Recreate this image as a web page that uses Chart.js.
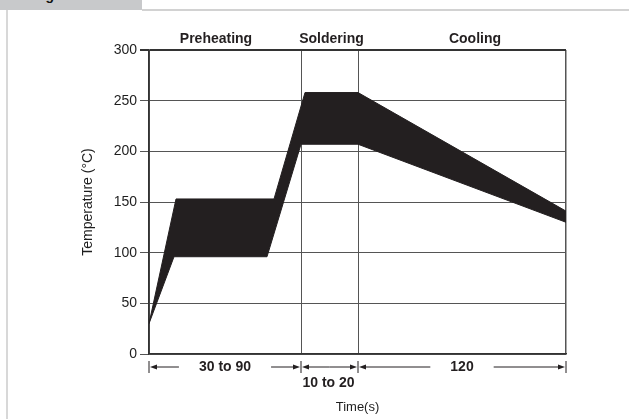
<!DOCTYPE html>
<html>
<head>
<meta charset="utf-8">
<script src="https://cdn.jsdelivr.net/npm/chart.js@4.4.1/dist/chart.umd.min.js"></script>
<style>
  html, body { margin: 0; padding: 0; background: #fff; }
  #wrap { position: relative; width: 629px; height: 419px; overflow: hidden; }
  #tab { position: absolute; left: 0; top: 0; width: 142px; height: 10px; background: #c8c9cb; }
  #tabText { position: absolute; left: 33px; top: -12px; font: bold 14px/14px "Liberation Sans", Arial, sans-serif; color: #111; }
  #topRule { position: absolute; left: 142px; top: 9px; right: 0; height: 2px; background: #d2d2d2; }
  #leftRule { position: absolute; left: 6px; top: 10px; width: 2px; bottom: 0; background: #d8d8d8; }
  #chartBox { position: absolute; left: 0; top: 0; width: 629px; height: 419px; }
</style>
</head>
<body>
<div id="wrap">
  <div id="tab"></div>
  <div id="tabText">Figure</div>
  <div id="topRule"></div>
  <div id="leftRule"></div>
  <div id="chartBox"><canvas id="profileChart"></canvas></div>
</div>
<script>
// 구간 이름과 경계 (가로축은 비례가 아닌 도식용 단위)
const sectionNames = ['Preheating', 'Soldering', 'Cooling'];
const sectionEdges = [0, 152, 209, 417];
const spanLabels = ['30 to 90', '10 to 20', '120'];

// 온도 띠의 위/아래 경계
const upperTime = [0, 27, 125, 156, 209, 417];
const upperTemp = [30, 153, 153, 258, 258, 141];
const lowerTime = [0, 25, 118, 152, 209, 417];
const lowerTemp = [30, 96, 96, 207, 207, 130];

// 세로축 눈금
const tempTicks = [0, 50, 100, 150, 200, 250, 300];

const ink = '#231f20';
const fontFamily = '"Liberation Sans", Arial, Helvetica, sans-serif';

Chart.defaults.responsive = true;
Chart.defaults.maintainAspectRatio = false;
Chart.defaults.font.family = fontFamily;

// 화살표 한 개 그리기 (from -> to, 머리는 to 쪽)
function drawArrow(ctx, from, to, y) {
  const dir = to > from ? 1 : -1;
  ctx.beginPath();
  ctx.moveTo(from, y);
  ctx.lineTo(to - dir * 5, y);
  ctx.stroke();
  ctx.beginPath();
  ctx.moveTo(to, y);
  ctx.lineTo(to - dir * 7, y - 2.5);
  ctx.lineTo(to - dir * 7, y + 2.5);
  ctx.closePath();
  ctx.fill();
}

// 위쪽 구간 이름과 아래쪽 치수선
const profileNotes = {
  id: 'profileNotes',
  afterDraw(chart) {
    const { ctx, chartArea, scales: { x } } = chart;
    const edges = sectionEdges.map(v => x.getPixelForValue(v));
    const nameShift = [-9, 2, 13];
    ctx.save();
    ctx.fillStyle = ink;
    ctx.strokeStyle = ink;
    ctx.textAlign = 'center';

    ctx.font = 'bold 14px ' + fontFamily;
    ctx.textBaseline = 'alphabetic';
    sectionNames.forEach((name, i) => {
      ctx.fillText(name, (edges[i] + edges[i + 1]) / 2 + nameShift[i], chartArea.top - 7);
    });

    const y = chartArea.bottom + 13;
    ctx.lineWidth = 1;
    edges.forEach(px => {
      ctx.beginPath();
      ctx.moveTo(px, y - 6);
      ctx.lineTo(px, y + 6);
      ctx.stroke();
    });

    ctx.textBaseline = 'middle';
    spanLabels.forEach((label, i) => {
      const a = edges[i] + 1;
      const b = edges[i + 1] - 1;
      const mid = (a + b) / 2;
      const w = ctx.measureText(label).width;
      if (w + 50 < b - a) {
        ctx.fillText(label, mid, y);
        drawArrow(ctx, mid - w / 2 - 20, a, y);
        drawArrow(ctx, mid + w / 2 + 20, b, y);
      } else {
        drawArrow(ctx, mid, a, y);
        drawArrow(ctx, mid, b, y);
        ctx.fillText(label, mid - 1, y + 16);
      }
    });
    ctx.restore();
  }
};

const ctx = document.getElementById('profileChart').getContext('2d');
new Chart(ctx, {
  type: 'line',
  data: {
    datasets: [
      {
        label: 'upper',
        data: upperTime.map((t, i) => ({ x: t, y: upperTemp[i] })),
        borderColor: ink,
        borderWidth: 1,
        pointRadius: 0,
        tension: 0,
        fill: false
      },
      {
        label: 'lower',
        data: lowerTime.map((t, i) => ({ x: t, y: lowerTemp[i] })),
        borderColor: ink,
        borderWidth: 1,
        backgroundColor: ink,
        pointRadius: 0,
        tension: 0,
        fill: '-1'
      }
    ]
  },
  options: {
    animation: false,
    layout: { padding: { left: 76, top: 50, right: 63, bottom: 0 } },
    plugins: {
      legend: { display: false },
      tooltip: { enabled: false }
    },
    scales: {
      x: {
        type: 'linear',
        min: sectionEdges[0],
        max: sectionEdges[sectionEdges.length - 1],
        afterBuildTicks: scale => { scale.ticks = sectionEdges.map(v => ({ value: v })); },
        afterFit: scale => { scale.height = 65; },
        ticks: { display: false },
        grid: {
          drawTicks: false,
          color: '#555',
          lineWidth: c => (c.tick && c.tick.value === 417 ? 1.5 : 1)
        },
        border: { color: '#333', width: 1.5 },
        title: {
          display: true,
          text: 'Time(s)',
          color: '#1e1e1e',
          font: { size: 13 },
          padding: { top: 4, bottom: 4 }
        }
      },
      y: {
        min: 0,
        max: 300,
        afterBuildTicks: scale => { scale.ticks = tempTicks.map(v => ({ value: v })); },
        afterFit: scale => { scale.width = 73; },
        ticks: { color: '#1e1e1e', font: { size: 14 }, padding: 3 },
        grid: {
          tickLength: 9,
          color: c => (c.tick && c.tick.value === 300 ? '#333' : '#555'),
          lineWidth: c => (c.tick && c.tick.value === 300 ? 2 : 1)
        },
        border: { color: '#333', width: 1.5 },
        title: {
          display: true,
          text: 'Temperature (°C)',
          color: '#1e1e1e',
          font: { size: 14 },
          padding: { top: 4, bottom: 4 }
        }
      }
    }
  },
  plugins: [profileNotes]
});
</script>
</body>
</html>
